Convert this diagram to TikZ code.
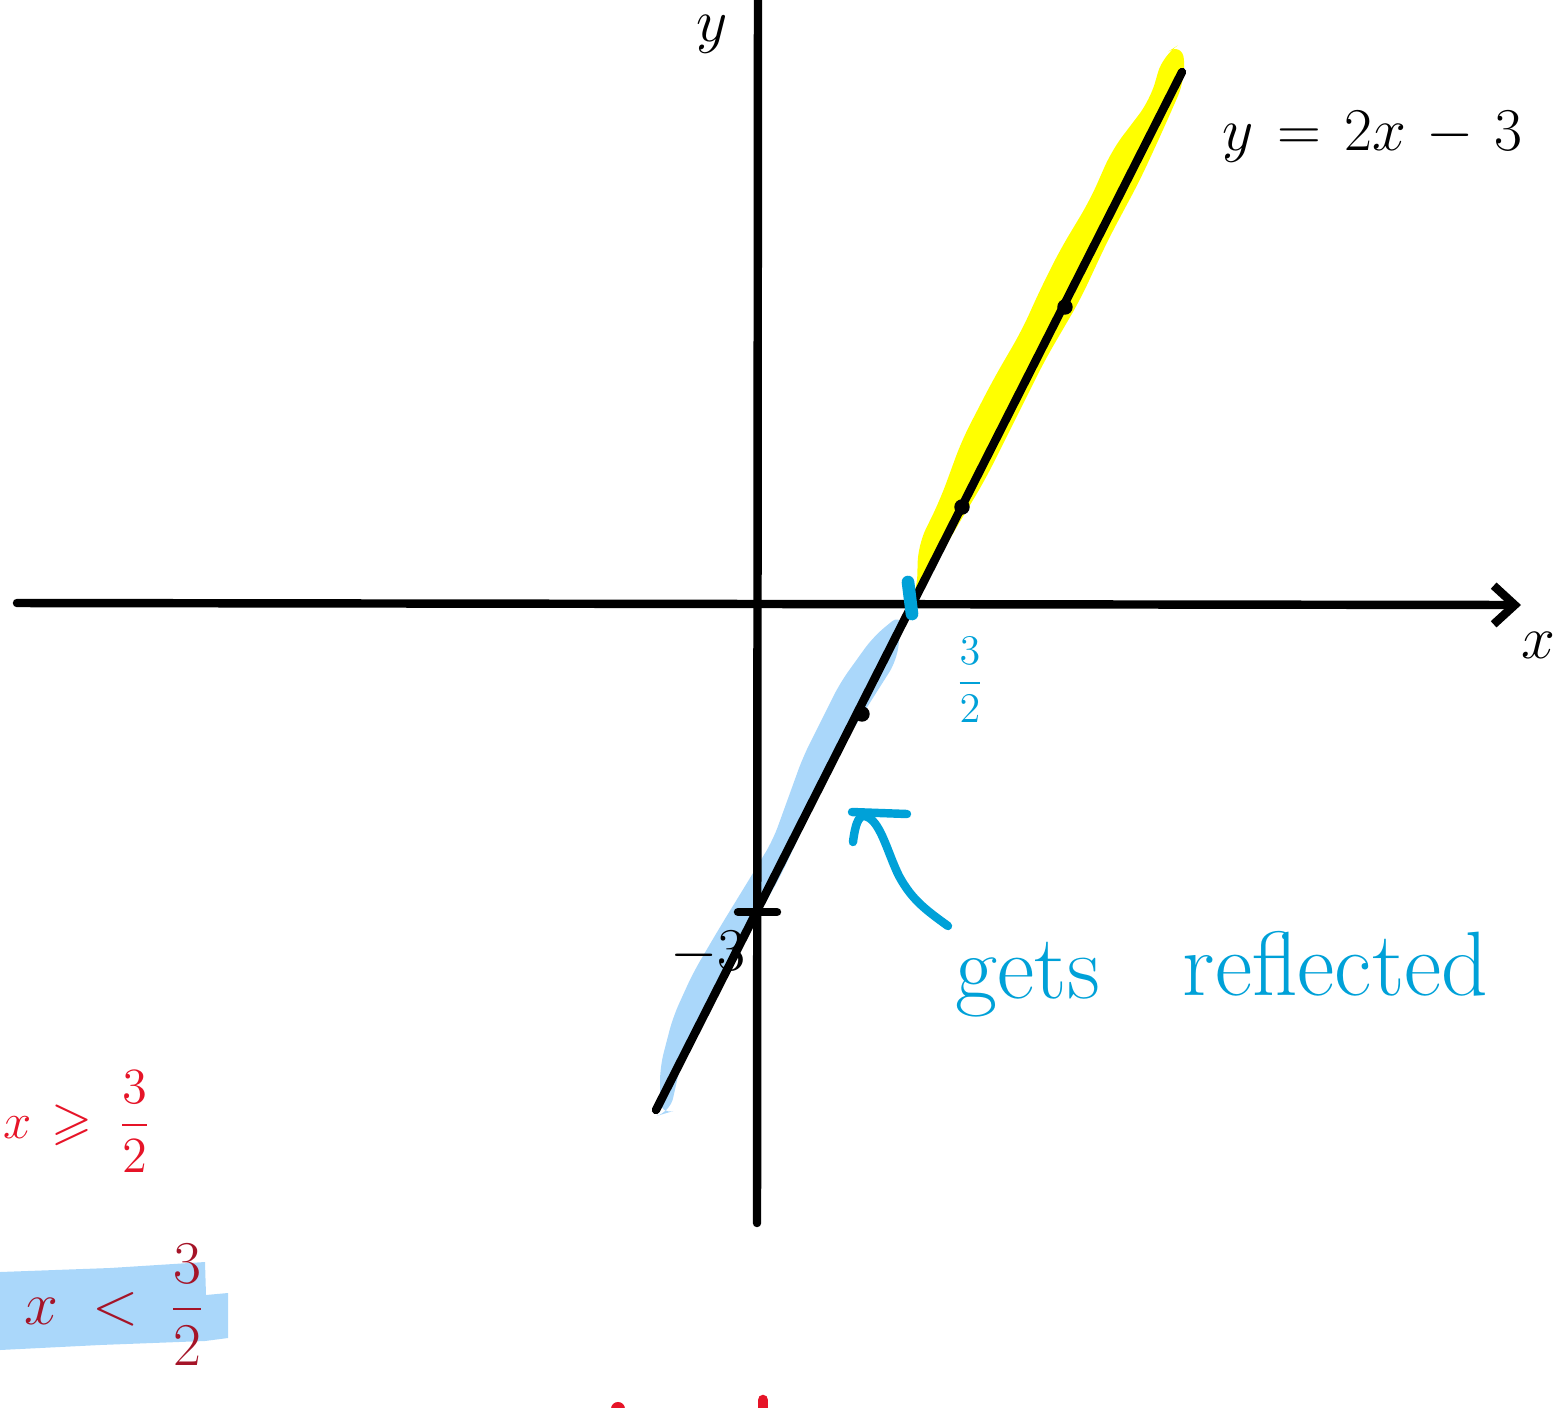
\documentclass[tikz,border=0pt]{standalone}
\usepackage{amsmath}
\usepackage{amssymb}
\usepackage{tikz}
\usetikzlibrary{arrows.meta,calc}

\definecolor{penblue}{RGB}{0,161,216}
\definecolor{hlblue}{RGB}{170,215,250}
\definecolor{hlyellow}{RGB}{255,255,0}
\definecolor{penred}{RGB}{230,20,40}
\definecolor{darkred}{RGB}{165,20,40}

\begin{document}
\begin{tikzpicture}[x=0.01cm,y=-0.01cm,
    pen/.style={line width=2.4pt, line cap=round, line join=round},
    hand/.style={inner sep=0pt, font=\fontsize{#1}{#1}\selectfont}]
    % Page size of the sketch (pixels of the scan)
    \useasboundingbox (0,0) rectangle (1553,1408);

    % Highlight the part of the line above the x-axis
    \fill[hlyellow, rounded corners=5pt] (917,592) -- (918,545) -- (940,500) -- (962,440)
        -- (993,380) -- (1022,330) -- (1040,290) -- (1060,250) -- (1090,200)
        -- (1112,150) -- (1150,100) -- (1163,55) -- (1183,42) -- (1185,80)
        -- (1163,130) -- (1140,180) -- (1108,240) -- (1080,300) -- (1045,360)
        -- (1015,420) -- (985,480) -- (955,530) -- (932,570) -- (915,596) -- cycle;

    % Highlight the part of the line below the x-axis
    \fill[hlblue, rounded corners=4pt] (902,613) -- (873,637) -- (840,683) -- (803,757)
        -- (773,840) -- (747,883) -- (720,927) -- (693,973) -- (673,1017)
        -- (660,1067) -- (660,1115) -- (670,1112) -- (680,1067) -- (720,983)
        -- (780,877) -- (840,750) -- (897,660) -- cycle;

    % Axes
    \coordinate (xstart) at (17,603);
    \coordinate (xend) at (1521,605);
    \coordinate (ytop) at (758,-5);
    \coordinate (ybot) at (757,1223);
    \draw[pen, -{Straight Barb[length=6pt,width=11pt]}] (xstart) -- (xend);
    \draw[pen] (ytop) -- (ybot);
    \node[hand=18] (xlab) at (1538,645) {$x$};
    \node[hand=16] (ylab) at (712,34) {$y$};

    % The line y = 2x - 3
    \coordinate (lo) at (656,1110);
    \coordinate (hi) at (1182,72);
    \draw[pen] (lo) -- (hi);
    \fill (862,714) circle (2.2pt);  % x = 1
    \fill (962,507) circle (2.2pt);  % x = 2
    \fill (1065,307) circle (2.2pt); % x = 3
    \node[hand=19, anchor=base west] (eqn) at (1222,150) {$y \mkern2mu = \mkern2mu 2x \mkern2mu - \mkern2mu 3$};

    % Intercepts
    \draw[pen] (738,912) -- (777,912);
    \node[hand=16] (mthree) at (708,953) {$-3$};
    \draw[penblue, line width=3.6pt, line cap=round] (908,582) -- (912,614);
    \node[hand=13, penblue] (threehalf) at (970,680) {$\dfrac{3}{2}$};

    % Arrow to the reflected part
    \coordinate (hookstart) at (853,842);
    \coordinate (hooktop) at (864,816);
    \coordinate (hookend) at (948,926);
    \draw[pen, penblue] (hookstart) .. controls (855,826) and (858,816) .. (hooktop)
        .. controls (880,818) and (887,852) .. (899,876)
        .. controls (912,900) and (926,910) .. (hookend);
    \draw[pen, penblue] (852,812) -- (907,814);
    \node[hand=26, penblue, anchor=base west] (gets) at (955,998) {gets};
    \node[hand=26, penblue, anchor=base west] (refl) at (1182,995) {reflected};

    % Cases on the left
    \node[hand=15, penred, anchor=east] (geq) at (152,1122) {$x \mkern2mu \geqslant \mkern4mu \dfrac{3}{2}$};
    \fill[hlblue] (0,1272) -- (110,1268) -- (205,1262) -- (206,1295) -- (228,1293)
        -- (228,1338) -- (205,1341) -- (100,1345) -- (0,1350) -- cycle;
    \node[hand=16, darkred, anchor=west] (lt) at (24,1305) {$x \mkern5mu < \mkern4mu \dfrac{3}{2}$};

    % Bits of the next line, cut off
    \draw[pen, penred, line width=3pt] (763,1400) -- (763,1414);
    \fill[penred] (618,1409) circle (2pt);
\end{tikzpicture}
\end{document}
